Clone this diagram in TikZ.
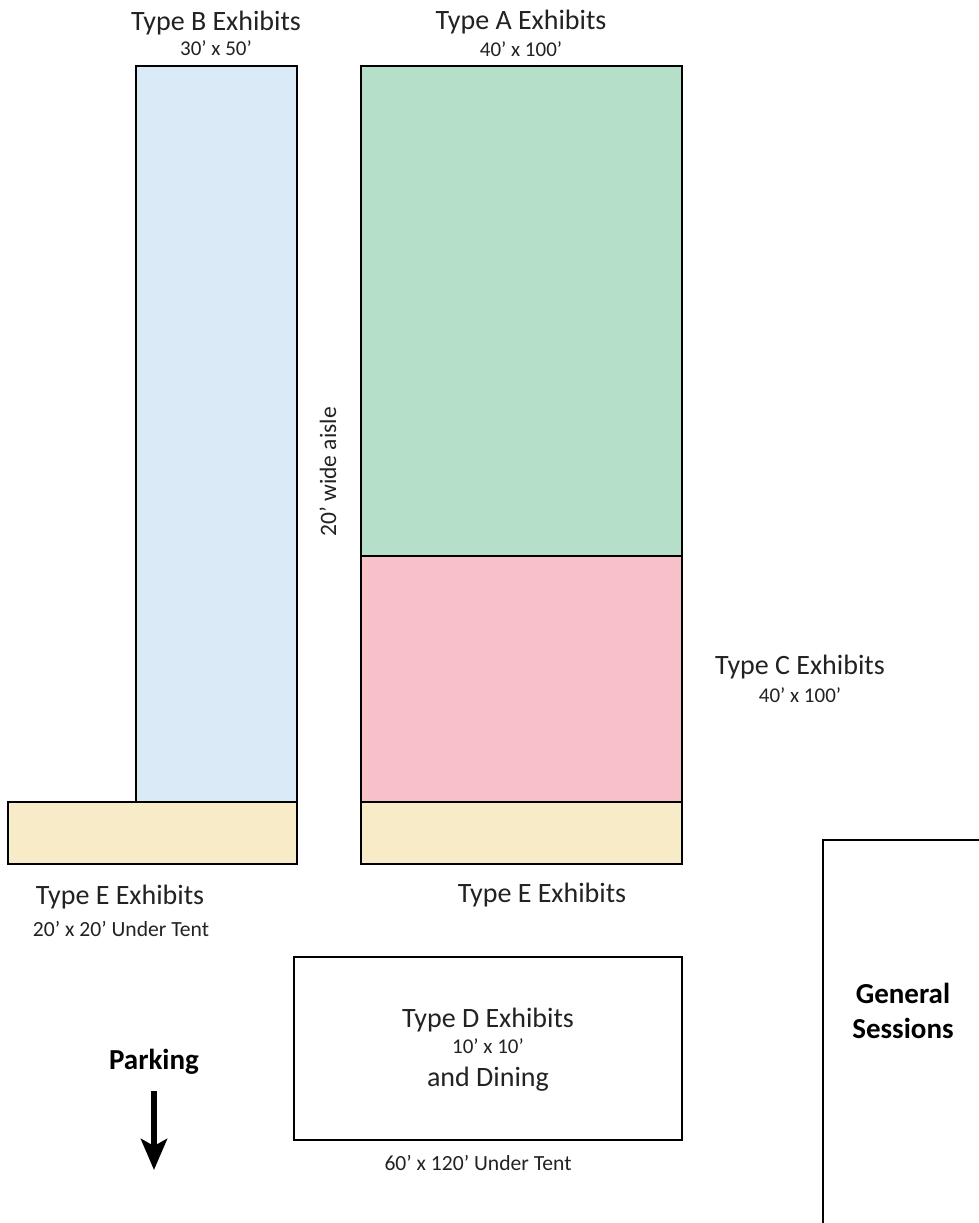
\documentclass[tikz,border=0pt]{standalone}
\usepackage{fontspec}
\setmainfont{Carlito}
\usetikzlibrary{arrows.meta}
\definecolor{cb}{HTML}{DBEAF7}
\definecolor{ca}{HTML}{B6DFCA}
\definecolor{cc}{HTML}{F8C0C8}
\definecolor{ce}{HTML}{F8ECC8}
\definecolor{tx}{HTML}{222222}
\tikzset{x=1pt,y=-1pt,
 area/.style={draw=black,line width=2.7pt,inner sep=0pt,minimum width=0pt},
 big/.style={font=\fontsize{28}{32}\selectfont,inner sep=0pt,text=tx},
 small/.style={font=\fontsize{21}{24}\selectfont,inner sep=0pt,text=tx},
 tent/.style={font=\fontsize{21.6}{24}\selectfont,inner sep=0pt,text=tx},
 bold/.style={font=\fontsize{29}{35}\selectfont\bfseries,inner sep=0pt}}
\begin{document}
\begin{tikzpicture}
\useasboundingbox (0,0) rectangle (979,1223);
\path[fill=white] (0,0) rectangle (979,1223);
\path[area,fill=cb] (136,66) rectangle (297,802);
\path[area,fill=ca] (361,66) rectangle (682,556);
\path[area,fill=cc] (361,556) rectangle (682,802);
\path[area,fill=ce] (8,802) rectangle (297,864);
\path[area,fill=ce] (361,802) rectangle (682,864);
\path[area,fill=white] (294,957) rectangle (682,1140);
\draw[area] (981,840) -- (823,840) -- (823,1225);
\node[big] (tb) at (216,23) {Type B Exhibits};
\node[small] (tbs) at (216,48) {30’ x 50’};
\node[big] (ta) at (521,22) {Type A Exhibits};
\node[small] (tas) at (521,49) {40’ x 100’};
\node[big] (tc) at (800,667) {Type C Exhibits};
\node[small] (tcs) at (800,695) {40’ x 100’};
\node[big] (te1) at (120,897) {Type E Exhibits};
\node[tent] (te1s) at (121,929) {20’ x 20’ Under Tent};
\node[big] (te2) at (542,895) {Type E Exhibits};
\node[big] (td) at (488,1020) {Type D Exhibits};
\node[small] (tds) at (488,1046) {10’ x 10’};
\node[big] (dn) at (488,1079) {and Dining};
\node[tent] (tdu) at (478,1163) {60’ x 120’ Under Tent};
\node[big,rotate=90,font=\fontsize{23.5}{28}\selectfont] (aisle) at (328,472) {20’ wide aisle};
\node[bold] (pk) at (154,1062) {Parking};
\node[bold,align=center] (gs) at (903,1011) {General\\Sessions};
\coordinate (a1) at (154,1091);
\coordinate (a2) at (154,1170);
\draw[line width=6pt,-{Stealth[length=31pt,width=26pt,inset=7pt]}] (a1) -- (a2);
\end{tikzpicture}
\end{document}
